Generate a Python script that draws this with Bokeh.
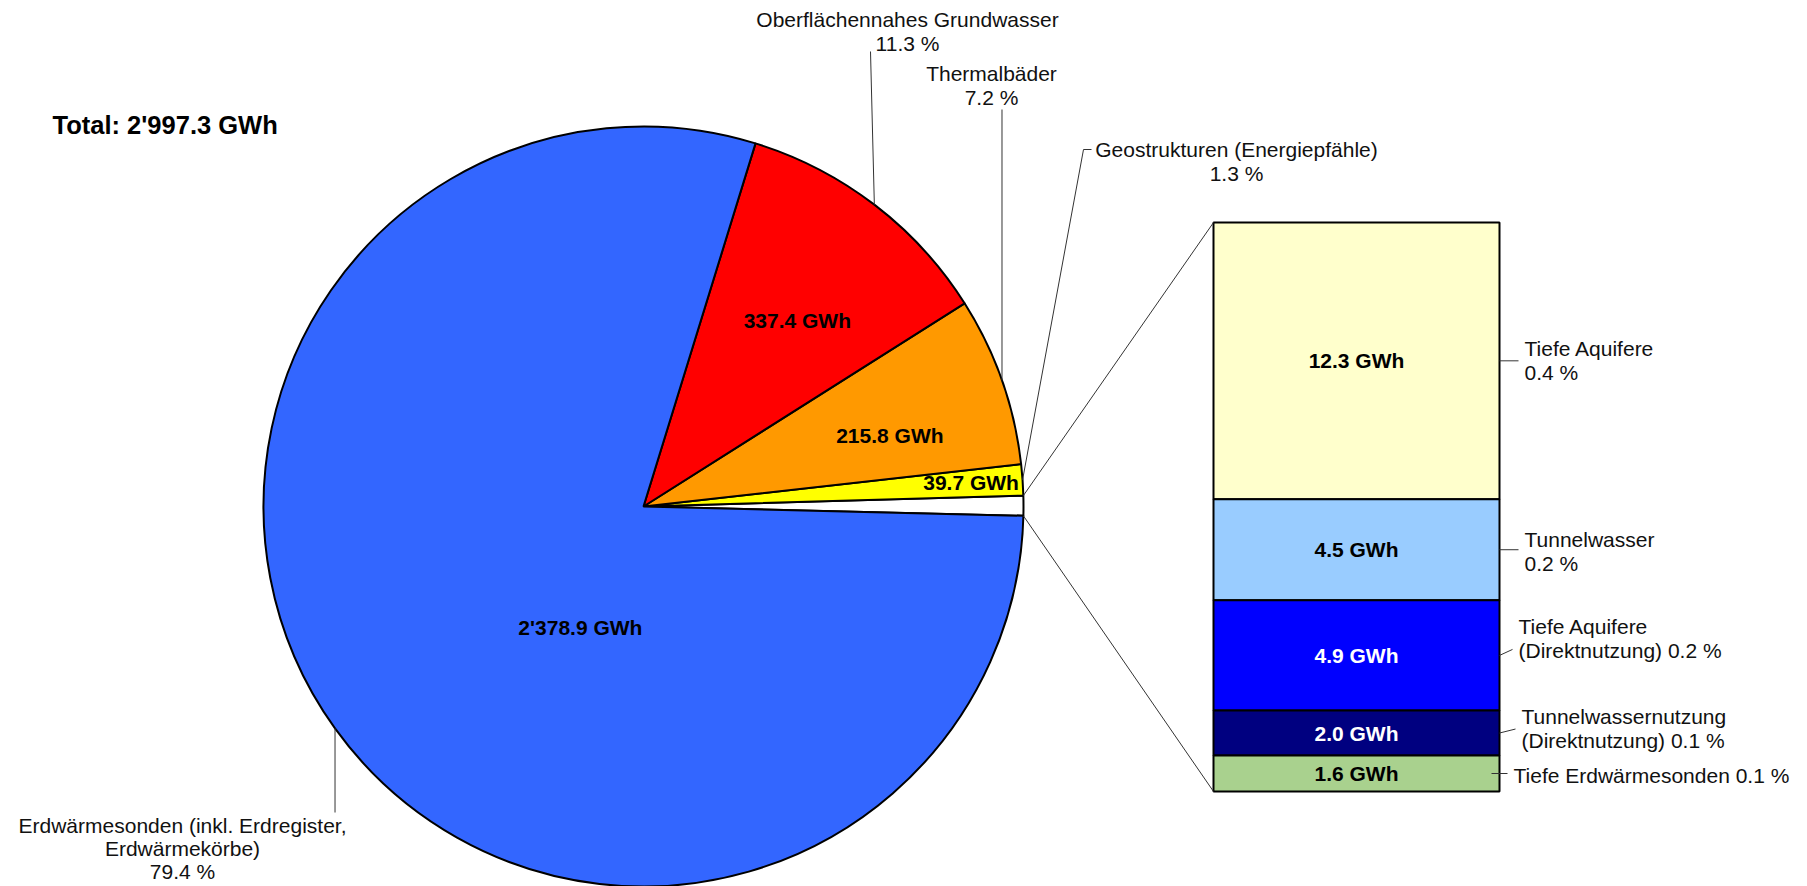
import math
from bokeh.plotting import figure
from bokeh.models import Range1d
from bokeh.embed import file_html
from bokeh.resources import INLINE
from bokeh.core.properties import value

# ---------------- data (GWh) ----------------
pie_names = ["Erdwärmesonden (inkl. Erdregister, Erdwärmekörbe)",
             "Oberflächennahes Grundwasser",
             "Thermalbäder",
             "Geostrukturen (Energiepfähle)"]
pie_values = [2378.9, 337.4, 215.8, 39.7]
bar_names = ["Tiefe Aquifere", "Tunnelwasser", "Tiefe Aquifere (Direktnutzung)",
             "Tunnelwassernutzung (Direktnutzung)", "Tiefe Erdwärmesonden"]
bar_values = [12.3, 4.5, 4.9, 2.0, 1.6]   # top to bottom of the stacked bar
total_gwh = 2997.3
total_title = "Total: 2'997.3 GWh"

# ---------------- styles ----------------
FONT = value("Liberation Sans")
pie_colors = {"Erdwärmesonden (inkl. Erdregister, Erdwärmekörbe)": "#3366FF",
              "Oberflächennahes Grundwasser": "#FF0000",
              "Thermalbäder": "#FF9900",
              "Geostrukturen (Energiepfähle)": "#FFFF00"}
other_color = "#FFFFFF"
bar_colors = ["#FFFFCC", "#99CCFF", "#0000FF", "#000080", "#A9D18E"]
bar_text_colors = ["black", "black", "white", "white", "black"]

# label wrapping for the outer pie labels
pie_label_lines = {
    "Erdwärmesonden (inkl. Erdregister, Erdwärmekörbe)": ["Erdwärmesonden (inkl. Erdregister,", "Erdwärmekörbe)", "{p}"],
    "Oberflächennahes Grundwasser": ["Oberflächennahes Grundwasser", "{p}"],
    "Thermalbäder": ["Thermalbäder", "{p}"],
    "Geostrukturen (Energiepfähle)": ["Geostrukturen (Energiepfähle)", "{p}"],
}
bar_label_lines = [["Tiefe Aquifere", "{p}"], ["Tunnelwasser", "{p}"],
                   ["Tiefe Aquifere", "(Direktnutzung) {p}"],
                   ["Tunnelwassernutzung", "(Direktnutzung) {p}"],
                   ["Tiefe Erdwärmesonden {p}"]]

# ---------------- layout (reference pixel coordinates) ----------------
W, H = 1807, 886
PIE_CX, PIE_CY, PIE_R = 643, 506, 380
START_DEG = -1.4
BAR_L, BAR_R, BAR_TOP, BAR_BOT = 1213, 1499, 222, 791
LINE_H = 24
# outer label: (center x, first line y, line height, leader point(s))
outer_layout = {
    "Erdwärmesonden (inkl. Erdregister, Erdwärmekörbe)": (182, 825, 23, [("arc", 812)]),
    "Oberflächennahes Grundwasser": (907, 19, 24, [(870, 51)]),
    "Thermalbäder": (991, 73, 24, [("arc", 109)]),
    "Geostrukturen (Energiepfähle)": (1236, 149, 24, [(1083, 149), (1091, 149)]),
}
# inner value label: (angle shift deg, radius fraction, align)
inner_layout = {
    "Erdwärmesonden (inkl. Erdregister, Erdwärmekörbe)": (26.8, 0.36, "center"),
    "Oberflächennahes Grundwasser": (-2.2, 0.635, "center"),
    "Thermalbäder": (-3.2, 0.675, "center"),
    "Geostrukturen (Energiepfähle)": (-0.3, 0.99, "right"),
}
# bar side labels: (text x, first line dy from segment middle, leader start dx, leader end dy)
bar_label_layout = [(1524, -12, 0, 0), (1524, -10, 0, 0), (1518, -29, 0, -6),
                    (1521, -17, 0, -4), (1513, 2, -8, 0)]

def Y(ry):
    return H - ry

def gwh(v):
    return f"{v:,.1f}".replace(",", "'") + " GWh"

def pct(v):
    return f"{100.0 * v / total_gwh:.1f} %"

p = figure(width=W, height=H, x_range=Range1d(0, W), y_range=Range1d(0, H),
           output_backend="svg", toolbar_location=None,
           x_axis_type=None, y_axis_type=None,
           min_border=0, min_border_left=0, min_border_right=0,
           min_border_top=0, min_border_bottom=0)
p.grid.visible = False
p.outline_line_color = None
p.background_fill_color = "white"
p.border_fill_color = "white"

# ---------------- pie ----------------
other_value = sum(bar_values)
order_names = ["__other__"] + list(reversed(pie_names))
order_values = [other_value] + list(reversed(pie_values))
ssum = sum(order_values)
starts, ends = [], []
a = math.radians(START_DEG)
for v in order_values:
    starts.append(a)
    a += 2 * math.pi * v / ssum
    ends.append(a)
colors = [other_color] + [pie_colors[n] for n in reversed(pie_names)]
p.wedge(x=PIE_CX, y=Y(PIE_CY), radius=PIE_R, start_angle=starts, end_angle=ends,
        fill_color=colors, line_color="black", line_width=2)

def arc_pt(ang, rf=1.0):
    return PIE_CX + PIE_R * rf * math.cos(ang), Y(PIE_CY) + PIE_R * rf * math.sin(ang)

LEADER = "#333333"
for name, s, e, v in zip(order_names, starts, ends, order_values):
    if name == "__other__":
        continue
    mid = 0.5 * (s + e)
    dshift, rf, align = inner_layout[name]
    lx, ly = arc_pt(mid + math.radians(dshift), rf)
    p.text(x=[lx], y=[ly], text=[gwh(v)], text_font=FONT, text_font_size="21px",
           text_font_style="bold", text_align=align, text_baseline="middle",
           text_color="black")
    cx, y0, lh, leader = outer_layout[name]
    lines = [t.format(p=pct(v)) for t in pie_label_lines[name]]
    p.text(x=[cx] * len(lines), y=[Y(y0 + i * lh) for i in range(len(lines))], text=lines,
           text_font=FONT, text_font_size="21px", text_align="center",
           text_baseline="middle", text_color="#111111")
    ax, ay = arc_pt(mid)
    xs, ys = [ax], [ay]
    for (px_, py_) in leader:
        xs.append(ax if px_ == "arc" else px_)
        ys.append(Y(py_))
    p.line(xs, ys, line_color=LEADER, line_width=1)

# title
p.text(x=[52], y=[Y(124)], text=[total_title], text_font=FONT, text_font_size="25.5px",
       text_font_style="bold", text_align="left", text_baseline="middle", text_color="black")

# ---------------- stacked bar ----------------
k = (BAR_BOT - BAR_TOP) / other_value          # px per GWh
y_bot_data = Y(BAR_BOT)
p.extra_y_ranges = {"bar": Range1d((0 - y_bot_data) / k, (H - y_bot_data) / k)}

tops, bots = [], []
acc = other_value
for v in bar_values:
    tops.append(acc)
    acc -= v
    bots.append(acc)
p.quad(left=BAR_L, right=BAR_R, bottom=bots, top=tops, y_range_name="bar",
       fill_color=bar_colors, line_color="black", line_width=2)
mids = [(t + b) / 2 for t, b in zip(tops, bots)]
p.text(x=[(BAR_L + BAR_R) / 2] * len(bar_values), y=mids, text=[gwh(v) for v in bar_values],
       y_range_name="bar", text_font=FONT, text_font_size="21px", text_font_style="bold",
       text_align="center", text_baseline="middle", text_color=bar_text_colors)

for v, mid, lines, (tx, dy0, ldx, ldy) in zip(bar_values, mids, bar_label_lines, bar_label_layout):
    txts = [t.format(p=pct(v)) for t in lines]
    p.text(x=[tx] * len(txts), y=[mid - (dy0 + i * LINE_H) / k for i in range(len(txts))],
           text=txts, y_range_name="bar", text_font=FONT, text_font_size="21px",
           text_align="left", text_baseline="middle", text_color="#111111")
    p.line([BAR_R + ldx, tx - 6], [mid, mid - ldy / k], y_range_name="bar",
           line_color=LEADER, line_width=1)

# connectors between pie gap and bar
ox_top, oy_top = arc_pt(ends[0])
ox_bot, oy_bot = arc_pt(starts[0])
p.line([ox_top, BAR_L], [oy_top, Y(BAR_TOP)], line_color=LEADER, line_width=1)
p.line([ox_bot, BAR_L], [oy_bot, Y(BAR_BOT)], line_color=LEADER, line_width=1)

open("out.html", "w").write(file_html(p, INLINE))
